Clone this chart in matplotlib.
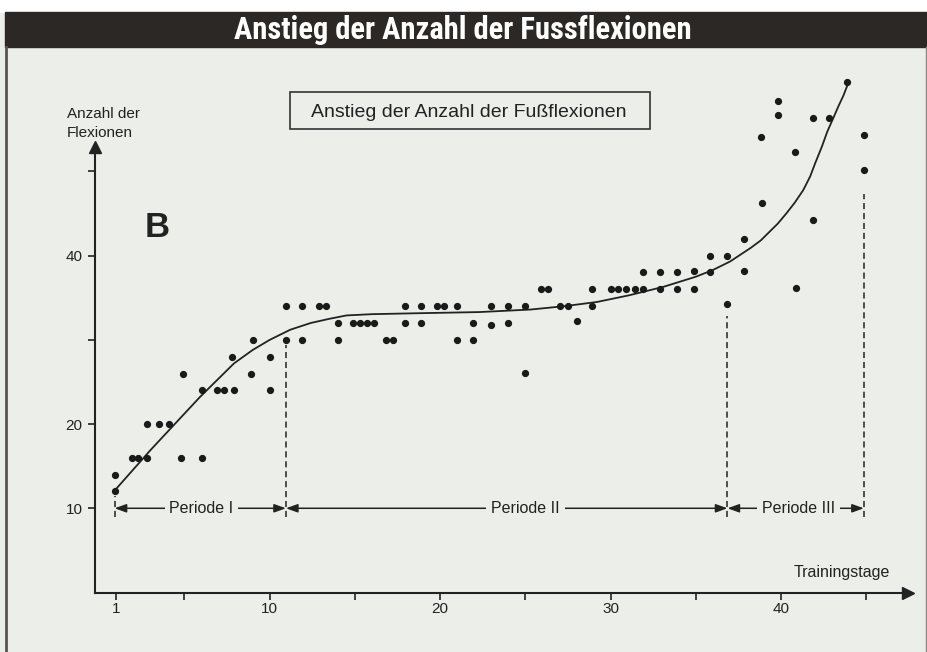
import matplotlib
matplotlib.use('Agg')
import matplotlib.pyplot as plt
from matplotlib import font_manager
from matplotlib.patches import Rectangle

# scatter data: training day, number of flexions
days = [0.9, 0.9, 1.9, 2.3, 2.8, 2.8, 3.5, 4.1, 4.9, 4.8, 6.0, 6.0,
        6.9, 7.3, 7.9, 7.8, 9.0, 8.9, 10.0, 10.0, 10.95, 10.95, 11.9, 11.9,
        12.9, 13.3, 17.95, 18.9, 19.8, 20.2, 21.0, 23.0, 24.0, 25.0,
        14.0, 14.9, 15.3, 15.7, 16.1, 17.95, 18.9, 21.9, 23.0, 24.0,
        14.0, 16.8, 17.25, 21.0, 21.9, 25.0,
        25.9, 26.3, 27.0, 27.5, 28.0, 28.9, 28.9, 30.0, 30.4, 30.9, 31.4,
        31.9, 31.9, 32.9, 32.9, 33.9, 33.9, 34.9, 34.9, 35.8, 35.8,
        36.85, 36.85, 37.8, 37.8,
        38.8, 38.85, 39.8, 39.8, 40.8, 40.85, 41.85, 41.85, 42.8, 43.85,
        44.85, 44.85]
flexions = [14, 12, 16, 16, 16, 20, 20, 20, 26, 16, 24, 16,
            24, 24, 24, 28, 30, 26, 28, 24, 34, 30, 34, 30,
            34, 34, 34, 34, 34, 34, 34, 34, 34, 34,
            32, 32, 32, 32, 32, 32, 32, 32, 31.8, 32,
            30, 30, 30, 30, 30, 26.1,
            36, 36, 34, 34, 32.2, 36, 34, 36, 36, 36, 36,
            36, 38, 38, 36, 38, 36, 38.2, 36, 40, 38,
            40, 34.2, 42, 38.2,
            54.1, 46.2, 58.4, 56.7, 52.3, 36.2, 56.4, 44.2, 56.4, 60.6,
            54.3, 50.2]

# trend curve
curve_days = [0.9, 3.0, 5.9, 6.9, 7.9, 9.0, 10.0, 11.2, 12.4, 13.5, 14.5,
              16.0, 18.4, 22.3, 25.3, 27.3, 29.2, 31.1, 33.1, 35.0, 36.0,
              37.0, 38.2, 38.8, 39.3, 39.8, 40.3, 40.8, 41.3, 41.7, 42.0,
              42.4, 42.7, 43.05, 43.35, 43.65, 43.9]
curve_vals = [12.1, 16.9, 23.2, 25.2, 27.2, 28.8, 30.0, 31.2, 32.0, 32.5, 32.9,
              33.05, 33.15, 33.3, 33.6, 34.0, 34.5, 35.3, 36.3, 37.5, 38.3,
              39.3, 40.9, 41.8, 42.8, 43.8, 45.0, 46.3, 47.8, 49.4, 51.0,
              53.0, 54.7, 56.3, 57.7, 59.0, 60.3]

# period boundaries (day) and the height where the dashed line stops
bounds = [0.9, 10.95, 36.85, 44.85]
bound_tops = [11.4, 29.4, 32.8, 47.3]
periods = ['Periode I', 'Periode II', 'Periode III']
period_text_x = [6.0, 25.0, 41.0]

xticks = [1, 10, 20, 30, 40]
xminor = [5, 15, 25, 35, 45]
yticks = [10, 20, 40]
yminor = [30, 50]

bg = '#eceeea'
ink = '#222222'
W, H = 928, 652

# condensed bold face for the banner, if one is installed
names = {f.name for f in font_manager.fontManager.ttflist}
banner_font = 'DejaVu Sans'
for cand in ['Liberation Sans Narrow', 'DejaVu Sans Condensed', 'Roboto Condensed',
             'Open Sans Condensed', 'Noto Sans Condensed']:
    if cand in names:
        banner_font = cand
        break
has_cond = any(f.name == 'DejaVu Sans' and f.stretch in ('condensed', 'semi-condensed')
               for f in font_manager.fontManager.ttflist)

fig = plt.figure(figsize=(W / 100, H / 100), dpi=100)
fig.patch.set_facecolor(bg)

# white strip on top and dark title band
fig.add_artist(Rectangle((0, 1 - 12 / H), 1, 12 / H, transform=fig.transFigure,
                         color='white', zorder=0))
fig.add_artist(Rectangle((5 / W, 1 - 47 / H), 1, 35 / H, transform=fig.transFigure,
                         color='#2c2825', zorder=1))
if banner_font == 'DejaVu Sans' and not has_cond:
    banner_font, banner_size = 'Liberation Sans', 19
else:
    banner_size = 22
fig.text(463 / W, 1 - 30 / H, 'Anstieg der Anzahl der Fussflexionen',
         color='white', fontsize=banner_size, fontweight='bold',
         family=banner_font, fontstretch='condensed',
         ha='center', va='center')
# frame lines
fig.add_artist(plt.Line2D([6 / W, 6 / W], [0, 1 - 47 / H], transform=fig.transFigure,
                          color='#5a5652', lw=2))
fig.add_artist(plt.Line2D([926 / W, 926 / W], [0, 1 - 47 / H], transform=fig.transFigure,
                          color='#8a8682', lw=1))

ax = fig.add_axes([95 / W, (H - 592.5) / H, (908 - 95) / W, (592.5 - 147) / H])
ax.set_facecolor('none')
ax.set_xlim(-0.25, 47.44)
ax.set_ylim(0, 52.9)

for s in ['top', 'right']:
    ax.spines[s].set_visible(False)
for s in ['left', 'bottom']:
    ax.spines[s].set_linewidth(1.5)
    ax.spines[s].set_color(ink)
ax.plot(1, 0, '>', color=ink, ms=8, transform=ax.transAxes, clip_on=False)
ax.plot(0, 1, '^', color=ink, ms=8, transform=ax.transAxes, clip_on=False)

ax.set_xticks(xticks)
ax.set_xticks(xminor, minor=True)
ax.set_yticks(yticks)
ax.set_yticks(yminor, minor=True)
ax.tick_params(which='both', direction='out', length=5, width=1.2, colors=ink,
               labelsize=11)
ax.tick_params(axis='x', pad=2)
ax.tick_params(axis='y', pad=4)
for lab in ax.get_xticklabels() + ax.get_yticklabels():
    lab.set_family('Liberation Sans')

ax.plot(curve_days, curve_vals, color=ink, lw=1.3, clip_on=False,
        solid_joinstyle='round')
ax.plot(days, flexions, 'o', color='#1a1a1a', ms=4.2, clip_on=False)

for d, top in zip(bounds, bound_tops):
    ax.plot([d, d], [9.0, top], color=ink, lw=1.1, ls=(0, (4, 2.5)))

for i, name in enumerate(periods):
    ax.annotate('', xy=(bounds[i + 1], 10), xytext=(bounds[i], 10),
                arrowprops=dict(arrowstyle='<|-|>,head_length=0.5,head_width=0.18',
                                color=ink, lw=1.1, shrinkA=0, shrinkB=0,
                                mutation_scale=14))
    ax.text(period_text_x[i], 10, name, fontsize=11.5, family='Liberation Sans',
            color=ink, ha='center', va='center',
            bbox=dict(boxstyle='square,pad=0.3', fc=bg, ec='none'))

# labels
fig.text(67 / W, 1 - 118.3 / H, 'Anzahl der', fontsize=11, family='Liberation Sans',
         color=ink, ha='left', va='baseline')
fig.text(67 / W, 1 - 136.7 / H, 'Flexionen', fontsize=11, family='Liberation Sans',
         color=ink, ha='left', va='baseline')
fig.text(841.7 / W, 1 - 577.3 / H, 'Trainingstage', fontsize=11.5,
         family='Liberation Sans', color=ink, ha='center', va='baseline')
fig.text(156.7 / W, 1 - 236.7 / H, 'B', fontsize=25, fontweight='bold',
         family='Liberation Sans', color=ink, ha='center', va='baseline')

# boxed inner title
fig.add_artist(Rectangle((290 / W, 1 - 129.3 / H), 360 / W, 37 / H,
                         transform=fig.transFigure, fill=False, ec='#333333', lw=1.2))
fig.text(468.3 / W, 1 - 116.7 / H, 'Anstieg der Anzahl der Fußflexionen',
         fontsize=14, family='Liberation Sans', color=ink, ha='center', va='baseline')

fig.savefig('out.png', dpi=100, facecolor=fig.get_facecolor())
